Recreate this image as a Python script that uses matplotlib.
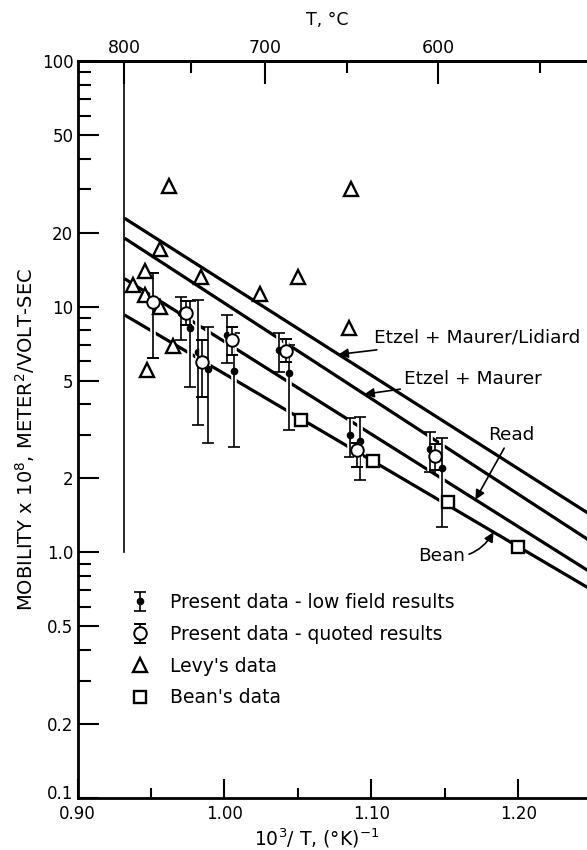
import numpy as np
import matplotlib
matplotlib.use("Agg")
import matplotlib.pyplot as plt
import matplotlib.transforms as mtransforms
import matplotlib.patheffects as pe
from matplotlib.ticker import FixedLocator, NullFormatter

# --- data (x = 1000/T in 1/K, y = mobility x 1e8 m^2/V-s) ---
# Levy's data (open triangles)
levy_x = [0.938, 0.946, 0.946, 0.947, 0.956, 0.956, 0.962, 0.965, 0.984, 1.024, 1.050, 1.085, 1.086]
levy_y = [12.2, 14.0, 11.2, 5.5, 17.2, 10.0, 31.0, 6.9, 13.2, 11.3, 13.2, 8.2, 30.0]

# Bean's data (open squares)
bean_x = [1.052, 1.101, 1.152, 1.200]
bean_y = [3.46, 2.35, 1.60, 1.05]

# present data - low field results (dots with error bars)
lf_x = [0.9701, 0.9762, 0.9823, 0.9891, 1.0014, 1.0068, 1.0374, 1.0442, 1.0857, 1.0925, 1.1401, 1.1483]
lf_y = [9.4, 8.19, 6.54, 5.58, 7.67, 5.47, 6.66, 5.37, 3.00, 2.84, 2.64, 2.21]
lf_hi = [10.95, 10.5, 10.65, 8.27, 9.25, 7.82, 7.82, 6.98, 3.52, 3.55, 3.09, 2.92]
lf_lo = [7.32, 4.71, 3.30, 2.79, 5.90, 2.69, 5.42, 3.15, 2.44, 1.97, 2.12, 1.27]

# present data - quoted results (open circles with error bars)
q_x = [0.9517, 0.9735, 0.9850, 1.0048, 1.0415, 1.0898, 1.1435]
q_y = [10.45, 9.42, 5.93, 7.32, 6.60, 2.61, 2.47]
q_hi = [13.7, 10.5, 7.32, 8.27, 7.39, 2.79, 2.77]
q_lo = [6.2, 8.42, 4.29, 6.36, 5.96, 2.23, 2.16]

# straight-line fits (end values at 800 C line and right edge)
line_x = [0.932, 1.25]
etzel_lid = [22.9, 1.41]
etzel = [19.0, 1.10]
read = [13.0, 0.823]
bean_fit = [9.25, 0.702]

y_major = [0.1, 0.2, 0.5, 1, 2, 5, 10, 20, 50, 100]
y_labels = ["0.1", "0.2", "0.5", "1.0", "2", "5", "10", "20", "50", "100"]
y_minor = [0.3, 0.4, 0.6, 0.7, 0.8, 0.9, 3, 4, 6, 7, 8, 9, 30, 40, 60, 70, 80, 90]
x_major = [1.00, 1.10, 1.20]
x_minor = [0.95, 1.05, 1.15]
temps_major = [800, 700, 600]
temps_minor = [750, 650, 550]

plt.rcParams["font.family"] = "DejaVu Sans"
plt.rcParams["mathtext.fontset"] = "dejavusans"

fig = plt.figure(figsize=(5.87, 8.5), dpi=100)
ax = fig.add_axes([77.5 / 587, 52 / 850, (587 - 77.5) / 587, (798 - 61) / 850])
ax.set_yscale("log")
ax.set_xlim(0.90, 1.2466)
ax.set_ylim(0.1, 100)

for s in ["left", "bottom", "top"]:
    ax.spines[s].set_linewidth(2)
ax.spines["right"].set_visible(False)

ax.yaxis.set_major_locator(FixedLocator(y_major))
ax.set_yticklabels(y_labels)
ax.yaxis.set_minor_locator(FixedLocator(y_minor))
ax.yaxis.set_minor_formatter(NullFormatter())
ax.set_xticks([0.90] + x_major)
ax.set_xticklabels(["0.90", "1.00", "1.10", "1.20"])
ax.xaxis.set_minor_locator(FixedLocator(x_minor))
ax.tick_params(axis="y", which="major", direction="in", length=15, width=1.5, labelsize=12, pad=3)
ax.tick_params(axis="y", which="minor", direction="in", length=9.5, width=1.5)
ax.tick_params(axis="x", which="major", direction="in", length=13.5, width=1.5, labelsize=12, pad=5)
ax.tick_params(axis="x", which="minor", direction="in", length=7, width=1.5)
ax.tick_params(top=False, right=False, which="both")
ax.xaxis.get_major_ticks()[0].tick1line.set_visible(False)

# nudge the "0.1" label up so it sits above "0.90"
lab01 = ax.get_yticklabels()[0]
lab01.set_transform(lab01.get_transform() + mtransforms.ScaledTranslation(0, 4 / 72, fig.dpi_scale_trans))

# top temperature axis
ax2 = ax.twiny()
ax2.set_xlim(ax.get_xlim())
ax2.spines["right"].set_visible(False)
ax2.spines["top"].set_linewidth(2)
ax2.set_xticks([1000 / (t + 273.15) for t in temps_major])
ax2.set_xticklabels([str(t) for t in temps_major])
ax2.xaxis.set_minor_locator(FixedLocator([1000 / (t + 273.15) for t in temps_minor]))
ax2.tick_params(axis="x", which="major", direction="in", length=16.5, width=1.5, labelsize=12.5, pad=3)
ax2.tick_params(axis="x", which="minor", direction="in", length=8.5, width=1.5)

# vertical line at 800 C
x800 = 1000 / (800 + 273.15)
ax.plot([x800, x800], [1.0, 100], color="k", lw=1.2, zorder=2)

# fitted lines
for vals in [etzel_lid, etzel, read, bean_fit]:
    ax.plot(line_x, vals, color="k", lw=2.3, solid_capstyle="butt", zorder=2)

# data (white halo on the bars breaks the fitted lines, as in the original)
halo = [pe.Stroke(linewidth=4, foreground="white"), pe.Normal()]
h_lf = ax.errorbar(lf_x, lf_y, yerr=[np.array(lf_y) - np.array(lf_lo), np.array(lf_hi) - np.array(lf_y)],
                   fmt="o", ms=4.5, color="k", elinewidth=1.2, capsize=4.5, capthick=1.2, zorder=4)
h_q = ax.errorbar(q_x, q_y, yerr=[np.array(q_y) - np.array(q_lo), np.array(q_hi) - np.array(q_y)],
                  fmt="o", ms=9, mfc="white", mec="k", mew=1.4, ecolor="k",
                  elinewidth=1.2, capsize=4.5, capthick=1.2, zorder=5)
for cont in (h_lf, h_q):
    for coll in cont.lines[2]:
        coll.set_path_effects(halo)
h_lv, = ax.plot(levy_x, levy_y, "^", ms=9.5, mfc="white", mec="k", mew=1.7, ls="none", zorder=5)
h_bn, = ax.plot(bean_x, bean_y, "s", ms=8, mfc="white", mec="k", mew=1.7, ls="none", zorder=5)


def on_line(x, vals):
    return 10 ** np.interp(x, line_x, np.log10(vals))


arrow = dict(arrowstyle="-|>", color="k", lw=1.2, mutation_scale=14, shrinkA=1, shrinkB=0)
ax.annotate("Etzel + Maurer/Lidiard", xy=(1.0776, on_line(1.0776, etzel_lid)), xytext=(1.1014, 7.46),
            ha="left", va="center", fontsize=13.3, arrowprops=arrow)
ax.annotate("Etzel + Maurer", xy=(1.0952, on_line(1.0952, etzel)), xytext=(1.1224, 5.08),
            ha="left", va="center", fontsize=13.3, arrowprops=arrow)
ax.annotate("Read", xy=(1.1707, on_line(1.1707, read)), xytext=(1.1952, 3.0),
            ha="center", va="center", fontsize=13.3, arrowprops=arrow)
ax.annotate("Bean", xy=(1.183, on_line(1.183, bean_fit)), xytext=(1.1476, 0.967),
            ha="center", va="center", fontsize=13.3,
            arrowprops=dict(arrow, connectionstyle="arc3,rad=0.35"))

ax.legend([h_lf, h_q, h_lv, h_bn],
          ["Present data - low field results", "Present data - quoted results",
           "Levy's data", "Bean's data"],
          loc="upper left", bbox_to_anchor=((126 - 77.5) / 509.5, 1 - (593 - 61) / 737),
          frameon=False, fontsize=13.5, handlelength=1.5, handletextpad=0.85,
          labelspacing=0.68, borderpad=0, borderaxespad=0)

fig.text(25 / 587, 1 - 440 / 850, "MOBILITY x 10$^8$, METER$^2$/VOLT-SEC",
         rotation=90, ha="center", va="center", fontsize=14)
fig.text(317 / 587, 1 - 838 / 850, "10$^3$/ T, (°K)$^{-1}$", ha="center", va="center", fontsize=13.5)
fig.text(327 / 587, 1 - 20 / 850, "T, °C", ha="center", va="center", fontsize=12.5)

fig.savefig("out.png", dpi=100)
